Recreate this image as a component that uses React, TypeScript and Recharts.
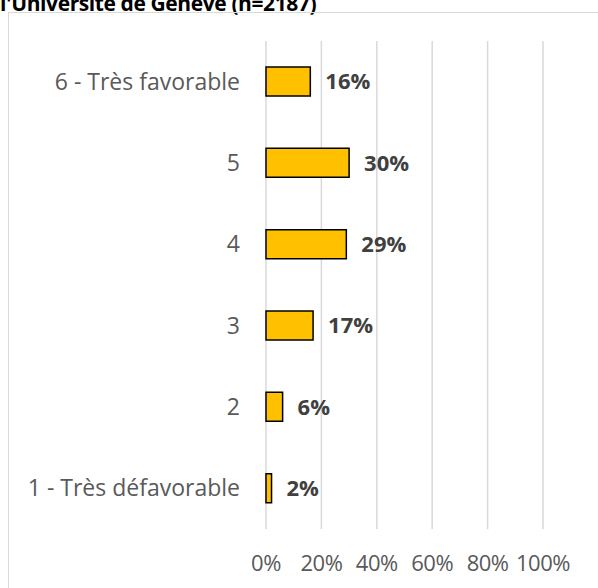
import { BarChart, Bar, XAxis, YAxis, CartesianGrid, LabelList } from 'recharts';

const categories = ['6 - Très favorable', '5', '4', '3', '2', '1 - Très défavorable'];
const shares = [0.16, 0.30, 0.29, 0.17, 0.06, 0.02];
const xTicks = [0, 0.2, 0.4, 0.6, 0.8, 1];

const data = categories.map((name, i) => ({ name, value: shares[i] }));

const pct = (v: number) => `${Math.round(v * 100)}%`;

const font = '"Open Sans", Lato, sans-serif';

const App: React.FC = () => {
    return (
        <div style={{ position: 'absolute', left: 0, top: 0, width: 598, height: 588, overflow: 'hidden', background: '#fff', fontFamily: font }}>
            <div style={{ position: 'absolute', left: 0, top: -11, fontSize: 21, fontWeight: 700, color: '#000', whiteSpace: 'nowrap', letterSpacing: -0.4 }}>
                l'Université de Genève (n=2187)
            </div>
            <div style={{ position: 'absolute', left: 8, top: 12, width: 620, height: 600, border: '1px solid #d9d9d9' }} />
            <div style={{ position: 'absolute', left: 0, top: 0 }}>
                <BarChart
                    width={598}
                    height={588}
                    data={data}
                    layout="vertical"
                    margin={{ top: 41, right: 55, left: 0, bottom: 8 }}
                    barCategoryGap={0}
                >
                    <CartesianGrid horizontal={false} stroke="#d9d9d9" strokeWidth={1.5} />
                    <XAxis
                        type="number"
                        domain={[0, 1]}
                        ticks={xTicks}
                        tickFormatter={pct}
                        axisLine={false}
                        tickLine={false}
                        height={51}
                        tickMargin={20}
                        tick={{ fill: '#595959', fontSize: 22, fontFamily: font, letterSpacing: -0.5 }}
                        interval={0}
                    />
                    <YAxis
                        type="category"
                        dataKey="name"
                        width={266}
                        axisLine={false}
                        tickLine={false}
                        tickSize={0}
                        tickMargin={26}
                        tick={{ fill: '#595959', fontSize: 23, fontFamily: font }}
                        interval={0}
                    />
                    <Bar dataKey="value" fill="#FFC000" stroke="#000" strokeWidth={1.5} barSize={29} isAnimationActive={false}>
                        <LabelList
                            dataKey="value"
                            position="right"
                            offset={15}
                            formatter={(v: any) => pct(Number(v))}
                            style={{ fill: '#404040', fontSize: 22, fontWeight: 700, fontFamily: font }}
                        />
                    </Bar>
                </BarChart>
            </div>
        </div>
    );
};

export default App;
